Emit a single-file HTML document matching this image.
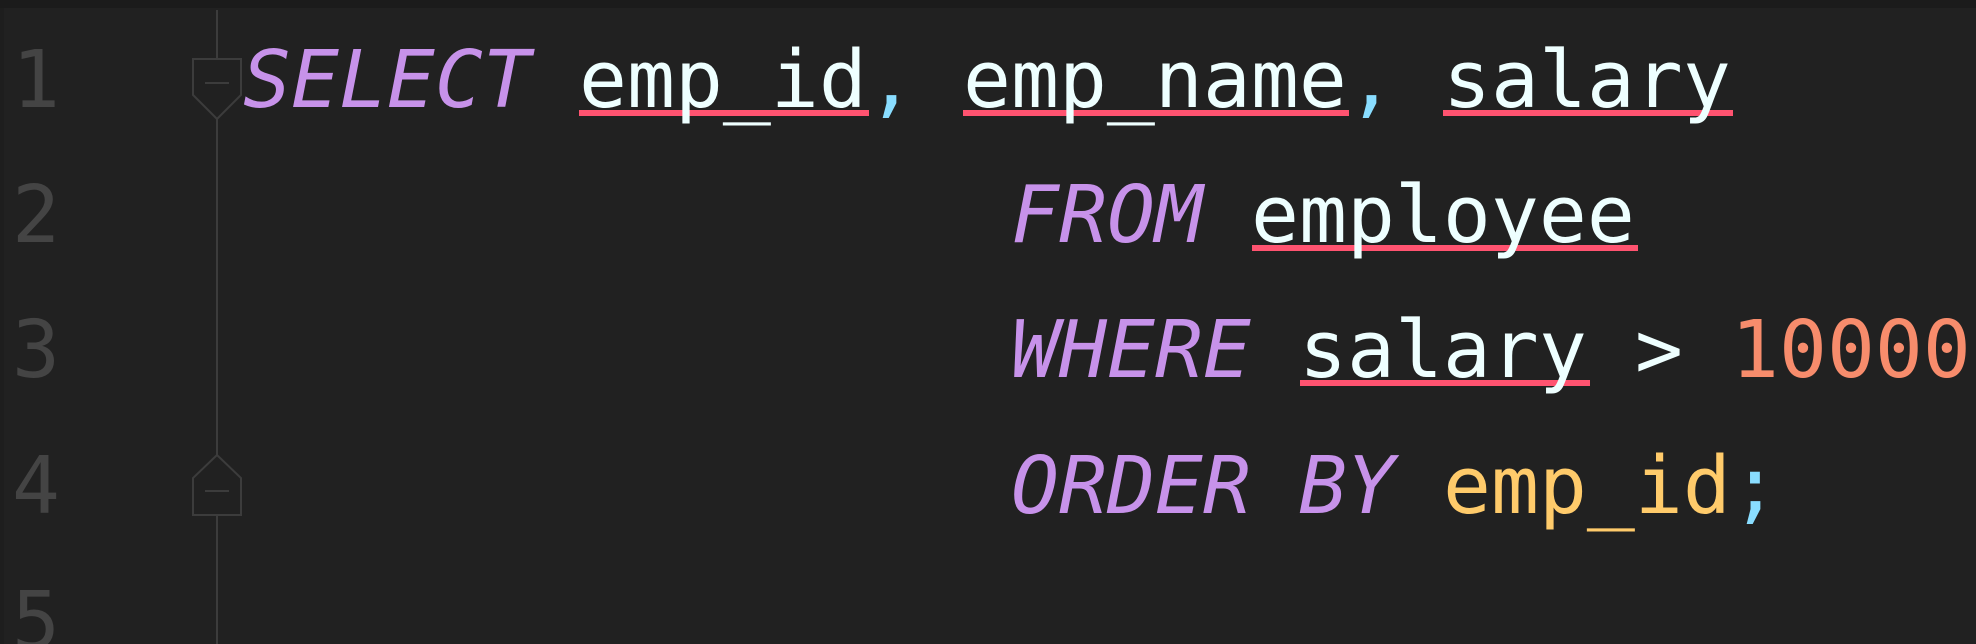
<!DOCTYPE html>
<html><head><meta charset="utf-8"><style>
html,body{margin:0;padding:0;background:#212121;}
body{width:1976px;height:644px;overflow:hidden;position:relative;}
svg{position:absolute;left:0;top:0;}
text{font-family:"DejaVu Sans Mono","Liberation Mono",monospace;font-size:79.7px;}
.k{fill:#c792ea;font-style:italic;}
.i{fill:#eeffff;}
.p{fill:#89ddff;}
.n{fill:#f78c6c;}
.y{fill:#ffcb6b;}
.ln{fill:#444444;}
</style></head><body>
<svg width="1976" height="644" viewBox="0 0 1976 644">
<rect x="0" y="0" width="1976" height="8" fill="#1b1b1b"/>
<rect x="0" y="8" width="4" height="636" fill="#1e1e1e"/>
<!-- fold line -->
<line x1="217" y1="10" x2="217" y2="644" stroke="#3c3c3c" stroke-width="2"/>
<path d="M193 59 H241 V95 L217 119 L193 95 Z" fill="#212121" stroke="#3c3c3c" stroke-width="2"/>
<line x1="205" y1="83" x2="229" y2="83" stroke="#3c3c3c" stroke-width="2"/>
<path d="M193 515 H241 V478 L217 455 L193 478 Z" fill="#212121" stroke="#3c3c3c" stroke-width="2"/>
<line x1="205" y1="491" x2="229" y2="491" stroke="#3c3c3c" stroke-width="2"/>
<!-- line numbers -->
<text class="ln" x="12" y="107">1</text>
<text class="ln" x="12" y="242">2</text>
<text class="ln" x="12" y="377">3</text>
<text class="ln" x="12" y="513">4</text>
<text class="ln" x="12" y="648">5</text>
<!-- underlines -->
<g fill="#ff5370">
<rect x="579" y="110" width="290" height="6"/>
<rect x="963" y="110" width="386" height="6"/>
<rect x="1443" y="110" width="290" height="6"/>
<rect x="1252" y="245" width="386" height="6"/>
<rect x="1300" y="380" width="290" height="6"/>
</g>
<!-- code -->
<text x="243" y="107" xml:space="preserve"><tspan class="k">SELECT</tspan><tspan class="i" x="579">emp_id</tspan><tspan class="p" x="867">,</tspan><tspan class="i" x="963">emp_name</tspan><tspan class="p" x="1347">,</tspan><tspan class="i" x="1443">salary</tspan></text>
<text x="1011" y="242" xml:space="preserve"><tspan class="k">FROM</tspan><tspan class="i" x="1251">employee</tspan></text>
<text x="1011" y="377" xml:space="preserve"><tspan class="k">WHERE</tspan><tspan class="i" x="1299">salary</tspan><tspan class="i" x="1635">&gt;</tspan><tspan class="n" x="1731">10000</tspan></text>
<text x="1011" y="513" xml:space="preserve"><tspan class="k">ORDER BY</tspan><tspan class="y" x="1443">emp_id</tspan><tspan class="p" x="1731">;</tspan></text>
</svg>
</body></html>
